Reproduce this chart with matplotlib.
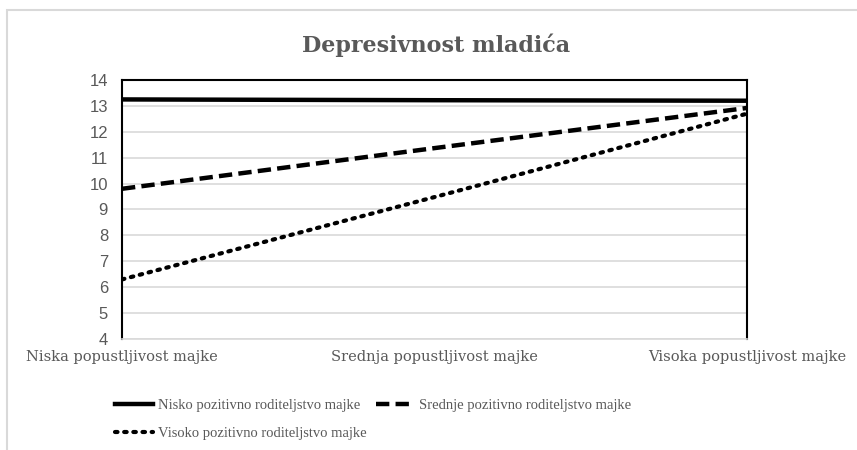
import matplotlib
matplotlib.use("Agg")
import matplotlib.pyplot as plt
from matplotlib.patches import Rectangle

# data
categories = ["Niska popustljivost majke",
              "Srednja popustljivost majke",
              "Visoka popustljivost majke"]
nisko = [13.25, 13.22, 13.2]
srednje = [9.8, 11.37, 12.92]
visoko = [6.3, 9.48, 12.7]
series_labels = ["Nisko pozitivno roditeljstvo majke",
                 "Srednje pozitivno roditeljstvo majke",
                 "Visoko pozitivno roditeljstvo majke"]
y_ticks = list(range(4, 15))

serif = ["DejaVu Serif"]
sans = ["Liberation Sans"]
gray = "#595959"

fig = plt.figure(figsize=(8.57, 4.5), dpi=100)
ax = fig.add_axes([122 / 857, 1 - 339 / 450, (747 - 122) / 857, (339 - 80) / 450])

# light chart border like an Excel chart area
fig.patches.append(Rectangle((7 / 857, -0.1), 1.1, 1 - 10 / 450 + 0.1,
                             transform=fig.transFigure, fill=False,
                             edgecolor="#d9d9d9", linewidth=1.5))

x = range(len(categories))
l1, = ax.plot(x, nisko, color="black", lw=3.2, ls="-", label=series_labels[0])
l2, = ax.plot(x, srednje, color="black", lw=3.2, ls=(0, (3, 1.4)), label=series_labels[1])
l3, = ax.plot(x, visoko, color="black", lw=3.0, ls=(0, (0.6, 1.6)),
              dash_capstyle="round", label=series_labels[2])

ax.set_xlim(0, 2)
ax.set_ylim(4, 14)
ax.set_yticks(y_ticks)
ax.set_yticklabels([str(t) for t in y_ticks], fontfamily=sans, fontsize=12, color=gray)
ax.set_xticks(list(x))
ax.set_xticklabels(categories, fontfamily=serif, fontsize=10.5, color=gray)
ax.tick_params(length=0)
ax.tick_params(axis="y", pad=10)
ax.tick_params(axis="x", pad=8)
ax.grid(axis="y", color="#d9d9d9", lw=1.2)
ax.set_axisbelow(True)
for side in ("left", "right", "top"):
    ax.spines[side].set_color("black")
    ax.spines[side].set_linewidth(1.5)
ax.spines["bottom"].set_color("#d9d9d9")
ax.spines["bottom"].set_linewidth(1.2)

fig.text(436 / 857, 1 - 45 / 450, "Depresivnost mladića", ha="center", va="center",
         fontfamily=serif, fontweight="bold", fontsize=16, color=gray)

# order so rows fill like Excel: row 1 = first two, row 2 = third
leg = fig.legend([l1, l3, l2], [series_labels[0], series_labels[2], series_labels[1]],
                 loc="upper left", bbox_to_anchor=(102 / 857, 1 - 386 / 450),
                 ncol=2, frameon=False, handlelength=2.6, handletextpad=0.35,
                 columnspacing=0.6, labelspacing=1.0,
                 prop={"family": ["Liberation Serif"], "size": 10.5})
for t in leg.get_texts():
    t.set_color(gray)

fig.savefig("out.png", dpi=100)
